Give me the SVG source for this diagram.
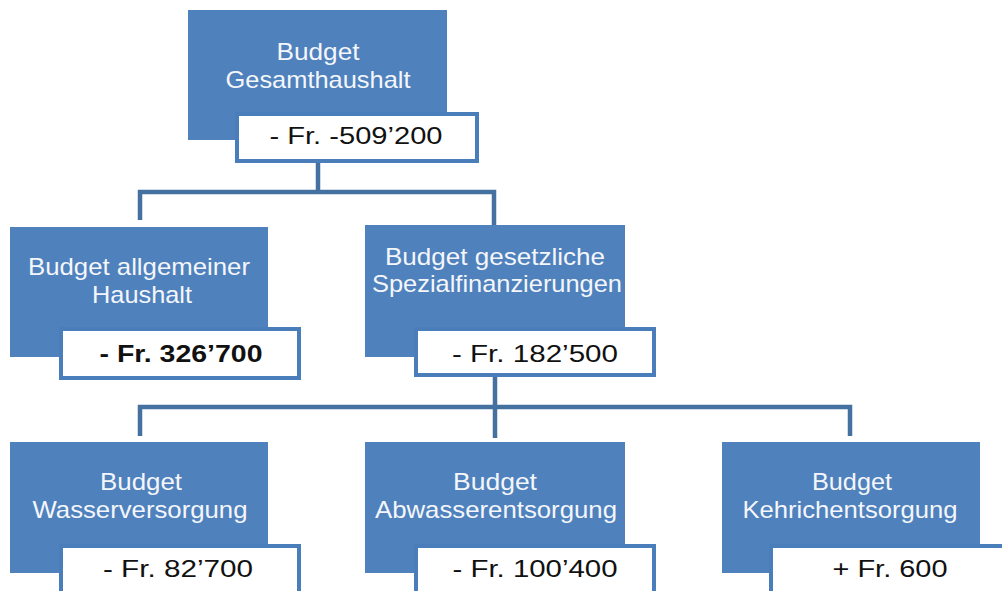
<svg xmlns="http://www.w3.org/2000/svg" width="1002" height="591" viewBox="0 0 1002 591">
<style>
.box{fill:#4F81BD;}
.lbl{fill:#FFFFFF;stroke:#4A7EBB;stroke-width:4;}
.t{font-family:"Liberation Sans",Arial,sans-serif;font-size:24px;fill:#F4F6FA;text-anchor:middle;}
.v{font-family:"Liberation Sans",Arial,sans-serif;font-size:24px;fill:#111111;text-anchor:middle;}
.b{font-weight:bold;}
.c{fill:none;stroke:#44719F;stroke-width:4.5;}
</style>
<rect width="1002" height="591" fill="#FFFFFF"/>
<g id="connectors">
<path class="c" d="M318 162 V192 M140 220 V192 H494 V225"/>
<path class="c" d="M495 375 V407 M140 436 V407 H850 V436 M495 407 V438"/>
</g>
<g id="n_gesamt">
<rect class="box" x="188" y="10" width="259" height="130"/>
<text class="t" x="318" y="60" textLength="83" lengthAdjust="spacingAndGlyphs">Budget</text>
<text class="t" x="318" y="88" textLength="185" lengthAdjust="spacingAndGlyphs">Gesamthaushalt</text>
<rect class="lbl" x="237" y="114" width="240" height="47"/>
<text class="v" x="356" y="144" textLength="173" lengthAdjust="spacingAndGlyphs">- Fr. -509’200</text>
</g>
<g id="n_allgemein">
<rect class="box" x="10" y="227" width="258" height="130"/>
<text class="t" x="139" y="275" textLength="222" lengthAdjust="spacingAndGlyphs">Budget allgemeiner</text>
<text class="t" x="142" y="303" textLength="100" lengthAdjust="spacingAndGlyphs">Haushalt</text>
<rect class="lbl" x="61" y="329" width="238" height="49"/>
<text class="v b" x="181" y="362" textLength="163" lengthAdjust="spacingAndGlyphs">- Fr. 326’700</text>
</g>
<g id="n_spezial">
<rect class="box" x="365" y="225" width="260" height="132"/>
<text class="t" x="495" y="265" textLength="220" lengthAdjust="spacingAndGlyphs">Budget gesetzliche</text>
<text class="t" x="497" y="292" textLength="250" lengthAdjust="spacingAndGlyphs">Spezialfinanzierungen</text>
<rect class="lbl" x="416" y="329" width="238" height="46"/>
<text class="v" x="535" y="362" textLength="166" lengthAdjust="spacingAndGlyphs">- Fr. 182’500</text>
</g>
<g id="n_wasser">
<rect class="box" x="10" y="442" width="258" height="131"/>
<text class="t" x="141" y="490" textLength="82" lengthAdjust="spacingAndGlyphs">Budget</text>
<text class="t" x="140" y="518" textLength="215" lengthAdjust="spacingAndGlyphs">Wasserversorgung</text>
<rect class="lbl" x="61" y="546" width="238" height="50"/>
<text class="v" x="178" y="577" textLength="150" lengthAdjust="spacingAndGlyphs">- Fr. 82’700</text>
</g>
<g id="n_abwasser">
<rect class="box" x="365" y="442" width="260" height="131"/>
<text class="t" x="495" y="490" textLength="84" lengthAdjust="spacingAndGlyphs">Budget</text>
<text class="t" x="496" y="518" textLength="242" lengthAdjust="spacingAndGlyphs">Abwasserentsorgung</text>
<rect class="lbl" x="416" y="546" width="238" height="50"/>
<text class="v" x="535" y="577" textLength="165" lengthAdjust="spacingAndGlyphs">- Fr. 100’400</text>
</g>
<g id="n_kehricht">
<rect class="box" x="722" y="442" width="258" height="131"/>
<text class="t" x="852" y="490" textLength="80" lengthAdjust="spacingAndGlyphs">Budget</text>
<text class="t" x="850" y="518" textLength="215" lengthAdjust="spacingAndGlyphs">Kehrichentsorgung</text>
<rect class="lbl" x="771" y="546" width="240" height="50"/>
<text class="v" x="890" y="577" textLength="115" lengthAdjust="spacingAndGlyphs">+ Fr. 600</text>
</g>
</svg>
